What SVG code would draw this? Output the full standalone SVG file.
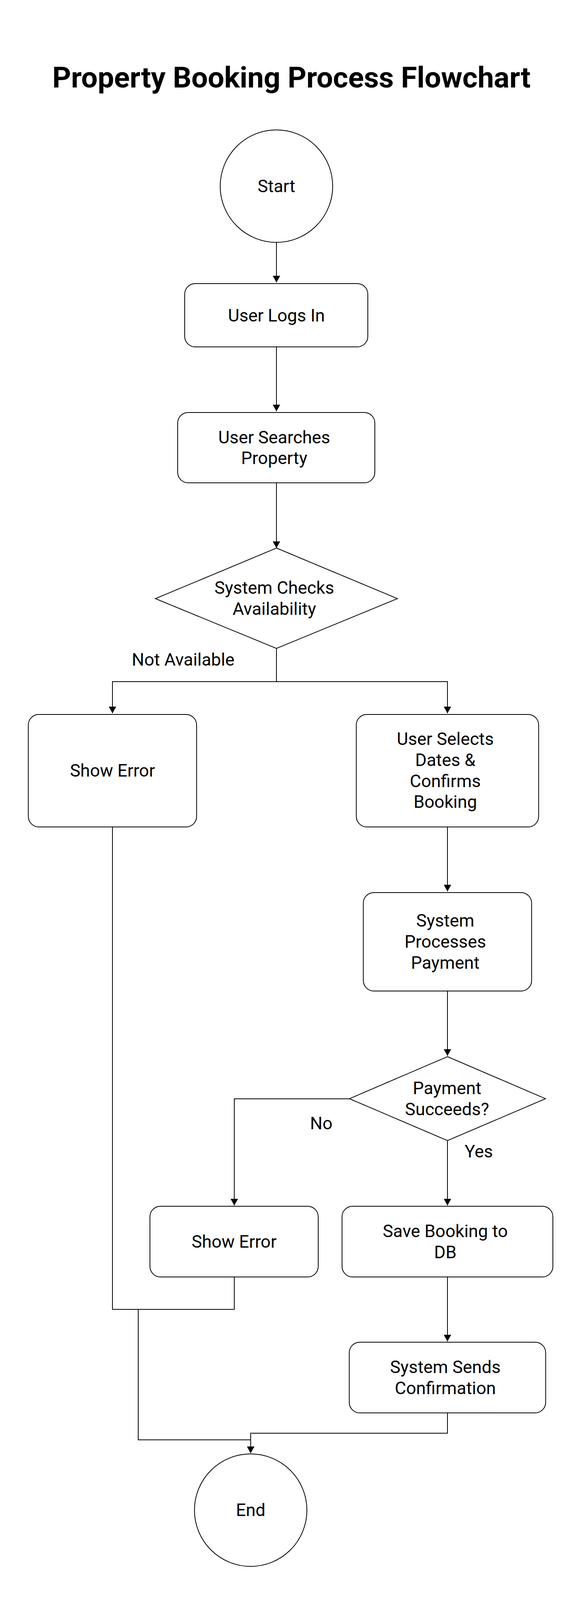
<svg xmlns="http://www.w3.org/2000/svg" width="1488" height="4155" viewBox="0 0 1488 4155">
<style>
.shape{fill:#fff;stroke:#000;stroke-width:2}
.lbl{font-family:Roboto,"Liberation Sans",sans-serif;font-size:44.8px;fill:#000;text-anchor:middle}
.edge{font-family:Roboto,"Liberation Sans",sans-serif;font-size:44.8px;fill:#000}
.title{font-family:Roboto,"Liberation Sans",sans-serif;font-size:74.5px;font-weight:bold;fill:#000;text-anchor:middle}
.conn{fill:none;stroke:#000;stroke-width:2}
</style>
<defs>
<marker id="arr" markerUnits="userSpaceOnUse" viewBox="0 0 17 19" refX="17" refY="9.5" markerWidth="17" markerHeight="19" orient="auto">
<path d="M0,0 L17,9.5 L0,19 z" fill="#000"/>
</marker>
</defs>
<rect width="1488" height="4155" fill="#fff"/>
<text class="title" x="746.5" y="224">Property Booking Process Flowchart</text>

<g id="connectors">
<path class="conn" d="M708,621 V723" marker-end="url(#arr)"/>
<path class="conn" d="M708,888 V1053" marker-end="url(#arr)"/>
<path class="conn" d="M708,1236 V1403" marker-end="url(#arr)"/>
<path class="conn" d="M708,1660 V1745 H288 V1826" marker-end="url(#arr)"/>
<path class="conn" d="M708,1745 H1146 V1826" marker-end="url(#arr)"/>
<path class="conn" d="M1146,2117 V2282" marker-end="url(#arr)"/>
<path class="conn" d="M1146,2537 V2703" marker-end="url(#arr)"/>
<path class="conn" d="M895,2813 H600 V3086" marker-end="url(#arr)"/>
<path class="conn" d="M1146,2920 V3086" marker-end="url(#arr)"/>
<path class="conn" d="M1146,3269 V3434" marker-end="url(#arr)"/>
<path class="conn" d="M288,2117 V3352 H354 V3686 H642 V3720" marker-end="url(#arr)"/>
<path class="conn" d="M600,3269 V3352 H354"/>
<path class="conn" d="M1146,3617 V3669 H642 V3720" marker-end="url(#arr)"/>
<text class="edge" x="337.5" y="1704">Not Available</text>
<text class="edge" x="794" y="2891">No</text>
<text class="edge" x="1190" y="2962.5">Yes</text>
</g>

<g id="start">
<circle class="shape" cx="708" cy="476.5" r="144"/>
<text class="lbl" x="708" y="491.5">Start</text>
</g>
<g id="login">
<rect class="shape" x="473" y="726" width="469" height="162" rx="27"/>
<text class="lbl" x="708" y="822.5">User Logs In</text>
</g>
<g id="search">
<rect class="shape" x="455" y="1056" width="505" height="180" rx="27"/>
<text class="lbl" x="702.4" y="1134.5">User Searches</text>
<text class="lbl" x="702.4" y="1188.3">Property</text>
</g>
<g id="check">
<polygon class="shape" points="708,1403 1018,1532.5 708,1660 398,1532.5"/>
<text class="lbl" x="702.6" y="1519.5">System Checks</text>
<text class="lbl" x="702.6" y="1573.8">Availability</text>
</g>
<g id="error1">
<rect class="shape" x="72.5" y="1829" width="431" height="288" rx="27"/>
<text class="lbl" x="288" y="1988">Show Error</text>
</g>
<g id="select">
<rect class="shape" x="912.5" y="1829" width="467" height="288" rx="27"/>
<text class="lbl" x="1140.4" y="1907">User Selects</text>
<text class="lbl" x="1140.4" y="1960.8">Dates &amp;</text>
<text class="lbl" x="1140.4" y="2014.5">Confirms</text>
<text class="lbl" x="1140.4" y="2068.3">Booking</text>
</g>
<g id="payment">
<rect class="shape" x="930.5" y="2285" width="431" height="252" rx="27"/>
<text class="lbl" x="1140.4" y="2372.3">System</text>
<text class="lbl" x="1140.4" y="2426">Processes</text>
<text class="lbl" x="1140.4" y="2479.8">Payment</text>
</g>
<g id="paycheck">
<polygon class="shape" points="1146,2705 1397,2812.7 1146,2920 895,2812.7"/>
<text class="lbl" x="1145" y="2801">Payment</text>
<text class="lbl" x="1145" y="2854.5">Succeeds?</text>
</g>
<g id="error2">
<rect class="shape" x="384" y="3088" width="431" height="181" rx="27"/>
<text class="lbl" x="599.5" y="3194">Show Error</text>
</g>
<g id="save">
<rect class="shape" x="876" y="3088" width="540" height="181" rx="27"/>
<text class="lbl" x="1140.4" y="3167">Save Booking to</text>
<text class="lbl" x="1140.4" y="3220.8">DB</text>
</g>
<g id="confirm">
<rect class="shape" x="894.5" y="3436" width="503" height="181" rx="27"/>
<text class="lbl" x="1140.6" y="3515">System Sends</text>
<text class="lbl" x="1140.6" y="3568.8">Confirmation</text>
</g>
<g id="end">
<circle class="shape" cx="642" cy="3866" r="144"/>
<text class="lbl" x="642" y="3881">End</text>
</g>
</svg>
